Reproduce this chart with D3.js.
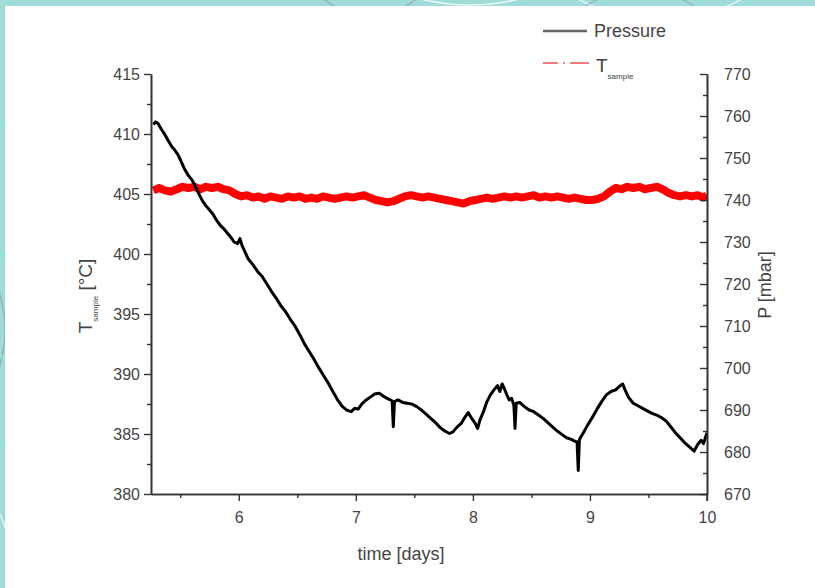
<!DOCTYPE html>
<html><head><meta charset="utf-8">
<script src="https://cdn.jsdelivr.net/npm/d3@7"></script>
<style>body{margin:0;background:#fff}svg{display:block}text{font-family:"Liberation Sans",Arial,sans-serif}</style>
</head><body>
<script>
// ---- data ----
const xTicks = [6, 7, 8, 9, 10];
const tTicks = [380, 385, 390, 395, 400, 405, 410, 415];
const pTicks = [670, 680, 690, 700, 710, 720, 730, 740, 750, 760, 770];
// temperature series (days, °C)
const tempDays = [5.27,5.32,5.37,5.42,5.47,5.52,5.57,5.62,5.67,5.72,5.77,5.82,5.87,5.92,5.97,6.02,6.07,6.12,6.17,6.22,6.27,6.32,6.37,6.42,6.47,6.52,6.57,6.62,6.67,6.72,6.77,6.82,6.87,6.92,6.97,7.02,7.07,7.12,7.17,7.22,7.27,7.32,7.37,7.42,7.47,7.52,7.57,7.62,7.67,7.72,7.77,7.82,7.87,7.92,7.97,8.02,8.07,8.12,8.17,8.22,8.27,8.32,8.37,8.42,8.47,8.52,8.57,8.62,8.67,8.72,8.77,8.82,8.87,8.92,8.97,9.02,9.07,9.12,9.17,9.22,9.27,9.32,9.37,9.42,9.47,9.52,9.57,9.62,9.67,9.72,9.77,9.82,9.87,9.92,9.97,10.0];
const tempVals = [405.3,405.5,405.3,405.2,405.4,405.6,405.5,405.6,405.4,405.6,405.5,405.6,405.4,405.3,405.0,404.8,404.9,404.7,404.8,404.6,404.8,404.7,404.6,404.8,404.7,404.8,404.6,404.7,404.6,404.8,404.7,404.6,404.7,404.8,404.7,404.8,404.9,404.7,404.5,404.4,404.3,404.4,404.6,404.8,404.9,404.8,404.7,404.8,404.7,404.6,404.5,404.4,404.3,404.2,404.4,404.5,404.6,404.7,404.6,404.7,404.8,404.7,404.8,404.7,404.8,404.9,404.7,404.8,404.7,404.8,404.7,404.6,404.7,404.6,404.5,404.5,404.6,404.8,405.2,405.5,405.4,405.6,405.5,405.6,405.4,405.5,405.6,405.4,405.1,404.9,404.8,404.9,404.8,404.9,404.7,404.9];
// pressure series (days, mbar)
const presDays = [5.27,5.29,5.31,5.34,5.37,5.40,5.43,5.45,5.48,5.51,5.54,5.57,5.60,5.63,5.66,5.69,5.72,5.75,5.78,5.81,5.84,5.87,5.90,5.93,5.96,5.99,6.01,6.03,6.05,6.08,6.12,6.16,6.20,6.24,6.28,6.32,6.36,6.40,6.44,6.48,6.52,6.56,6.60,6.64,6.68,6.72,6.76,6.80,6.84,6.88,6.92,6.96,6.99,7.02,7.05,7.08,7.12,7.16,7.20,7.24,7.28,7.31,7.32,7.33,7.36,7.40,7.44,7.48,7.52,7.56,7.60,7.64,7.68,7.72,7.76,7.80,7.83,7.86,7.90,7.93,7.96,7.99,8.02,8.04,8.06,8.09,8.12,8.15,8.18,8.21,8.23,8.25,8.27,8.29,8.31,8.33,8.35,8.36,8.37,8.40,8.44,8.48,8.52,8.56,8.60,8.64,8.68,8.72,8.76,8.80,8.84,8.87,8.89,8.90,8.91,8.94,8.98,9.02,9.06,9.10,9.14,9.18,9.22,9.25,9.28,9.30,9.33,9.37,9.41,9.45,9.49,9.53,9.57,9.61,9.65,9.69,9.73,9.77,9.81,9.85,9.89,9.92,9.95,9.97,10.0];
const presVals = [758.0,758.6,758.2,756.8,755.5,754.0,752.6,752.0,750.8,749.0,747.2,745.8,744.8,743.2,741.4,739.8,738.6,737.6,736.6,735.2,734.0,733.2,732.2,731.2,730.0,729.6,730.8,729.0,727.8,726.0,724.6,723.0,721.8,720.0,718.2,716.6,714.8,713.4,711.6,710.0,708.0,705.8,704.0,702.2,700.2,698.4,696.6,694.6,692.6,691.0,690.0,689.6,690.4,690.2,691.4,692.2,693.0,693.8,694.0,693.2,692.6,692.2,686.0,692.0,692.4,691.8,691.6,691.4,690.8,690.0,689.0,688.0,687.0,685.8,685.0,684.4,684.8,685.8,686.8,688.2,689.4,688.0,686.8,685.6,687.6,689.6,692.0,693.6,694.8,695.8,694.4,696.2,695.0,693.6,692.4,692.8,691.2,685.6,691.6,691.8,690.8,690.0,689.6,688.8,688.0,687.0,686.0,685.0,684.2,683.4,683.0,682.6,682.4,675.6,683.0,684.4,686.4,688.2,690.2,692.0,693.6,694.4,694.8,695.6,696.2,694.8,693.0,691.6,691.0,690.4,689.8,689.2,688.8,688.2,687.4,686.0,684.6,683.4,682.2,681.2,680.2,681.8,682.8,682.0,684.6];

// ---- layout ----
const W = 815, H = 588;
const L = 151, R = 707, T = 74, B = 494;
const svg = d3.select("body").append("svg").attr("width", W).attr("height", H);

// background frame
svg.append("rect").attr("width", W).attr("height", H).attr("fill", "#9ddcd9");
const deco = [
  {cx: 370, cy: -60, r: 75, c: "rgba(150,150,160,0.6)"},
  {cx: 470, cy: -200, r: 205, c: "rgba(255,255,255,0.8)"},
  {cx: 660, cy: -150, r: 170, c: "rgba(255,255,255,0.7)"},
  {cx: 640, cy: 90, r: 100, c: "rgba(150,150,160,0.5)"},
  {cx: -60, cy: 190, r: 90, c: "rgba(120,255,190,0.7)"},
  {cx: -120, cy: 330, r: 125, c: "rgba(150,150,160,0.6)"},
  {cx: -40, cy: 400, r: 60, c: "rgba(120,255,190,0.7)"},
  {cx: -100, cy: 560, r: 110, c: "rgba(255,255,255,0.7)"}
];
svg.selectAll("circle.deco").data(deco).join("circle").attr("class", "deco")
  .attr("cx", d => d.cx).attr("cy", d => d.cy).attr("r", d => d.r)
  .attr("fill", "none").attr("stroke", d => d.c).attr("stroke-width", 1.5);
svg.append("rect").attr("x", 5).attr("y", 6).attr("width", W - 5).attr("height", H - 6).attr("fill", "#fff");

// scales
const x = d3.scaleLinear().domain([5.25, 10]).range([L, R]);
const yT = d3.scaleLinear().domain([380, 415]).range([B, T]);
const yP = d3.scaleLinear().domain([670, 770]).range([B, T]);

svg.append("clipPath").attr("id", "clip").append("rect").attr("x", L).attr("y", T).attr("width", R - L).attr("height", B - T);
const plot = svg.append("g").attr("clip-path", "url(#clip)");

// temperature line
plot.append("path").datum(tempDays.map((d, i) => [d, tempVals[i]]))
  .attr("fill", "none").attr("stroke", "#ff0000").attr("stroke-width", 8).attr("stroke-linejoin", "round")
  .attr("d", d3.line().x(d => x(d[0])).y(d => yT(d[1])));

// pressure line
plot.append("path").datum(presDays.map((d, i) => [d, presVals[i]]))
  .attr("fill", "none").attr("stroke", "#000").attr("stroke-width", 3).attr("stroke-linejoin", "round")
  .attr("d", d3.line().x(d => x(d[0])).y(d => yP(d[1])));

// axes
const axCol = "#333";
function styleAxis(g) {
  g.select(".domain").attr("stroke", axCol).attr("stroke-width", 1.6);
  g.selectAll(".tick line").attr("stroke", axCol).attr("stroke-width", 1.4);
  g.selectAll(".tick text").attr("fill", "#444").style("font-size", "16px").style("font-family", "'Liberation Sans',Arial,sans-serif");
}
const minorX = [5.5, 6.5, 7.5, 8.5, 9.5];
const minorT = [382.5, 387.5, 392.5, 397.5, 402.5, 407.5, 412.5];
const minorP = [675, 685, 695, 705, 715, 725, 735, 745, 755, 765];

const gx = svg.append("g").attr("transform", `translate(0,${B})`)
  .call(d3.axisBottom(x).tickValues(xTicks).tickFormat(d3.format("d")).tickSize(7).tickPadding(11).tickSizeOuter(0));
styleAxis(gx);
const gxm = svg.append("g").attr("transform", `translate(0,${B})`)
  .call(d3.axisBottom(x).tickValues(minorX).tickSize(4).tickFormat("").tickSizeOuter(0));
styleAxis(gxm);

const gl = svg.append("g").attr("transform", `translate(${L},0)`)
  .call(d3.axisLeft(yT).tickValues(tTicks).tickFormat(d3.format("d")).tickSize(7).tickPadding(4).tickSizeOuter(0));
styleAxis(gl);
const glm = svg.append("g").attr("transform", `translate(${L},0)`)
  .call(d3.axisLeft(yT).tickValues(minorT).tickSize(4).tickFormat("").tickSizeOuter(0));
styleAxis(glm);

const gr = svg.append("g").attr("transform", `translate(${R},0)`)
  .call(d3.axisRight(yP).tickValues(pTicks).tickFormat(d3.format("d")).tickSize(-7).tickPadding(17).tickSizeOuter(0));
styleAxis(gr);
const grm = svg.append("g").attr("transform", `translate(${R},0)`)
  .call(d3.axisRight(yP).tickValues(minorP).tickSize(-4).tickFormat("").tickSizeOuter(0));
styleAxis(grm);
svg.append("line").attr("x1", R).attr("x2", R).attr("y1", B).attr("y2", B + 7).attr("stroke", axCol).attr("stroke-width", 1.4);

// axis titles
svg.append("text").attr("x", 401).attr("y", 560).attr("text-anchor", "middle")
  .attr("fill", "#444").style("font-size", "18px").text("time [days]");
svg.append("text").attr("transform", "translate(771,285) rotate(-90)").attr("text-anchor", "middle")
  .attr("fill", "#444").style("font-size", "18px").text("P [mbar]");
const lt = svg.append("text").attr("transform", "translate(92,296) rotate(-90)").attr("text-anchor", "middle")
  .attr("fill", "#444").style("font-size", "19px");
lt.append("tspan").text("T");
lt.append("tspan").attr("dy", 6).style("font-size", "8px").text("sample");
lt.append("tspan").attr("dy", -6).text(" [°C]");

// legend
const leg = svg.append("g");
leg.append("line").attr("x1", 543).attr("x2", 587).attr("y1", 31).attr("y2", 31)
  .attr("stroke", "#666").attr("stroke-width", 2.5);
leg.append("text").attr("x", 594).attr("y", 37).attr("fill", "#444").style("font-size", "18px").text("Pressure");
leg.append("line").attr("x1", 543).attr("x2", 589).attr("y1", 63).attr("y2", 63)
  .attr("stroke", "#f05050").attr("stroke-width", 1.5).attr("stroke-dasharray", "15 5 2 5 20");
const lT = leg.append("text").attr("x", 596).attr("y", 72).attr("fill", "#444").style("font-size", "19px");
lT.append("tspan").text("T");
lT.append("tspan").attr("dy", 7).style("font-size", "8px").text("sample");
</script>
</body></html>
